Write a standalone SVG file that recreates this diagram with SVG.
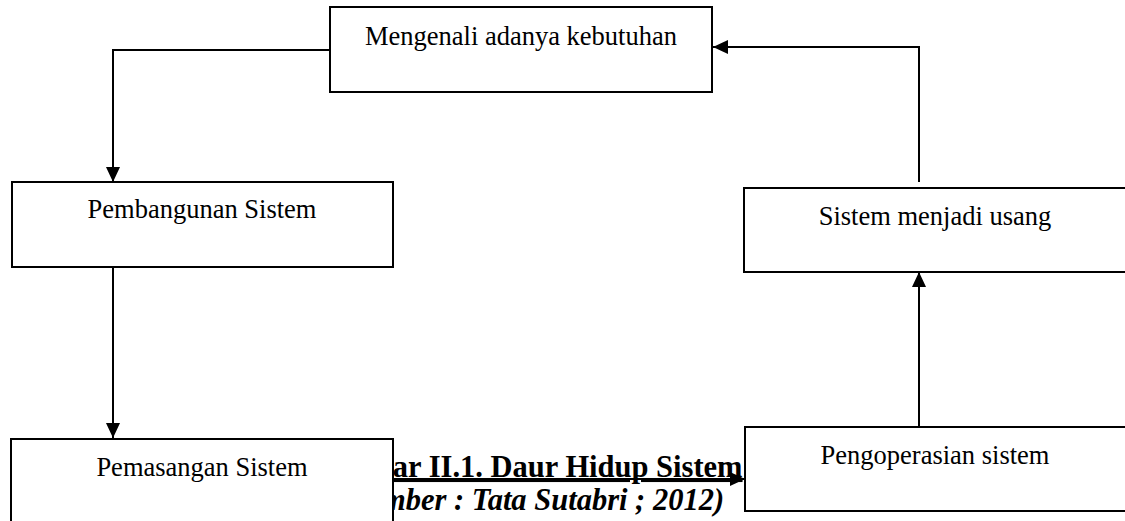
<svg xmlns="http://www.w3.org/2000/svg" width="1125" height="521" viewBox="0 0 1125 521">
<defs>
<style>
.box{fill:#fff;stroke:#000;stroke-width:2}
.lbl{font-family:"Liberation Serif","Times New Roman",serif;font-size:26.5px;fill:#000;text-anchor:middle}
.cap{font-family:"Liberation Serif","Times New Roman",serif;font-size:30.5px;font-weight:bold;fill:#000}
.con{fill:none;stroke:#000;stroke-width:2}
</style>
<marker id="ah" viewBox="0 0 15 14" refX="15" refY="7" markerWidth="15" markerHeight="14" markerUnits="userSpaceOnUse" orient="auto">
<path d="M0,0 L15,7 L0,14 Z" fill="#000"/>
</marker>
</defs>
<g id="caption">
<text class="cap" x="527" y="477" text-anchor="middle" text-decoration="underline">Gambar II.1. Daur Hidup Sistem</text>
<text class="cap" x="531" y="510" text-anchor="middle" font-style="italic">(Sumber : Tata Sutabri ; 2012)</text>
</g>
<g id="n1"><rect class="box" x="330" y="7" width="382" height="85"/><text class="lbl" x="521" y="45">Mengenali adanya kebutuhan</text></g>
<g id="n2"><rect class="box" x="12" y="182" width="381" height="85"/><text class="lbl" x="202" y="218">Pembangunan Sistem</text></g>
<g id="n3"><rect class="box" x="11" y="439" width="382" height="90"/><text class="lbl" x="202" y="476">Pemasangan Sistem</text></g>
<g id="n4"><rect class="box" x="745" y="427" width="390" height="84"/><text class="lbl" x="935" y="464">Pengoperasian sistem</text></g>
<g id="n5"><rect class="box" x="744" y="188" width="390" height="84"/><text class="lbl" x="935" y="225">Sistem menjadi usang</text></g>
<g id="connectors">
<path class="con" d="M330,50 H113 V182" marker-end="url(#ah)"/>
<path class="con" d="M113,267 V438" marker-end="url(#ah)"/>
<path class="con" d="M393,479 H745" marker-end="url(#ah)"/>
<path class="con" d="M919,427 V272" marker-end="url(#ah)"/>
<path class="con" d="M919,182 V47 H713" marker-end="url(#ah)"/>
</g>
</svg>
